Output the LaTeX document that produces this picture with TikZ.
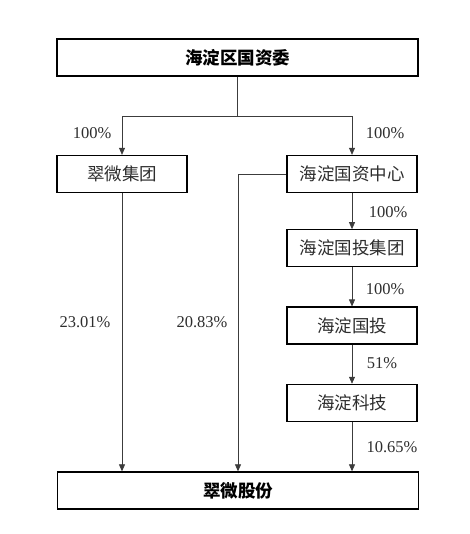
\documentclass[tikz,border=0pt]{standalone}
\usepackage{fontspec}
\setmainfont{Liberation Serif}
\newfontfamily\cjk{Noto Sans CJK SC}
\usetikzlibrary{arrows.meta, positioning}
\definecolor{cLine}{RGB}{60,60,60}
\definecolor{cText}{RGB}{45,45,45}
\tikzset{
	entity/.style={rectangle, draw=black, line width=1.3pt, minimum width=130pt, minimum height=37pt, inner sep=0pt, align=center, text=cText, font=\cjk\fontsize{17.5}{20}\selectfont},
	widebox/.style={entity, minimum width=361pt, text=black, font=\cjk\bfseries\fontsize{17.5}{20}\selectfont},
	holdarrow/.style={-{Triangle[length=7pt, width=6pt]}, cLine, line width=0.7pt},
	share/.style={text=cText, inner sep=0pt, font=\fontsize{16.5}{19}\selectfont},
}
\begin{document}
\begin{tikzpicture}[x=1pt, y=-1pt, node distance=39pt]
	\useasboundingbox (0,0) rectangle (469,534);
	% entities
	\node[widebox] (sasac) at (237.5,57.5) {海淀区国资委};
	\node[entity] (cwgroup) at (122,174) {翠微集团};
	\node[entity] (center) at (352,174) {海淀国资中心};
	\node[entity, below=36pt of center] (invgroup) {海淀国投集团};
	\node[entity, below=of invgroup] (invest) {海淀国投};
	\node[entity, below=of invest] (tech) {海淀科技};
	\node[widebox] (cuiwei) at (238,490.5) {翠微股份};
	% connectors
	\coordinate (split) at (237.5,116);
	\coordinate (bend) at (238,174);
	\draw[cLine, line width=0.7pt] (sasac.south) -- (split);
	\draw[holdarrow] (split) -| (cwgroup.north);
	\draw[holdarrow] (split) -| (center.north);
	\draw[holdarrow] (center.west) -- (bend) -- (bend |- cuiwei.north);
	\draw[holdarrow] (cwgroup.south) -- (cwgroup.south |- cuiwei.north);
	\draw[holdarrow] (center) -- (invgroup);
	\draw[holdarrow] (invgroup) -- (invest);
	\draw[holdarrow] (invest) -- (tech);
	\draw[holdarrow] (tech.south) -- (tech.south |- cuiwei.north);
	% shares
	\node[share] (s1) at (92,133) {100\%};
	\node[share] (s2) at (385,133) {100\%};
	\node[share] (s3) at (388,212) {100\%};
	\node[share] (s4) at (385,289) {100\%};
	\node[share] (s5) at (382,363) {51\%};
	\node[share] (s6) at (392,447) {10.65\%};
	\node[share] (s7) at (85,322) {23.01\%};
	\node[share] (s8) at (202,322) {20.83\%};
\end{tikzpicture}
\end{document}
